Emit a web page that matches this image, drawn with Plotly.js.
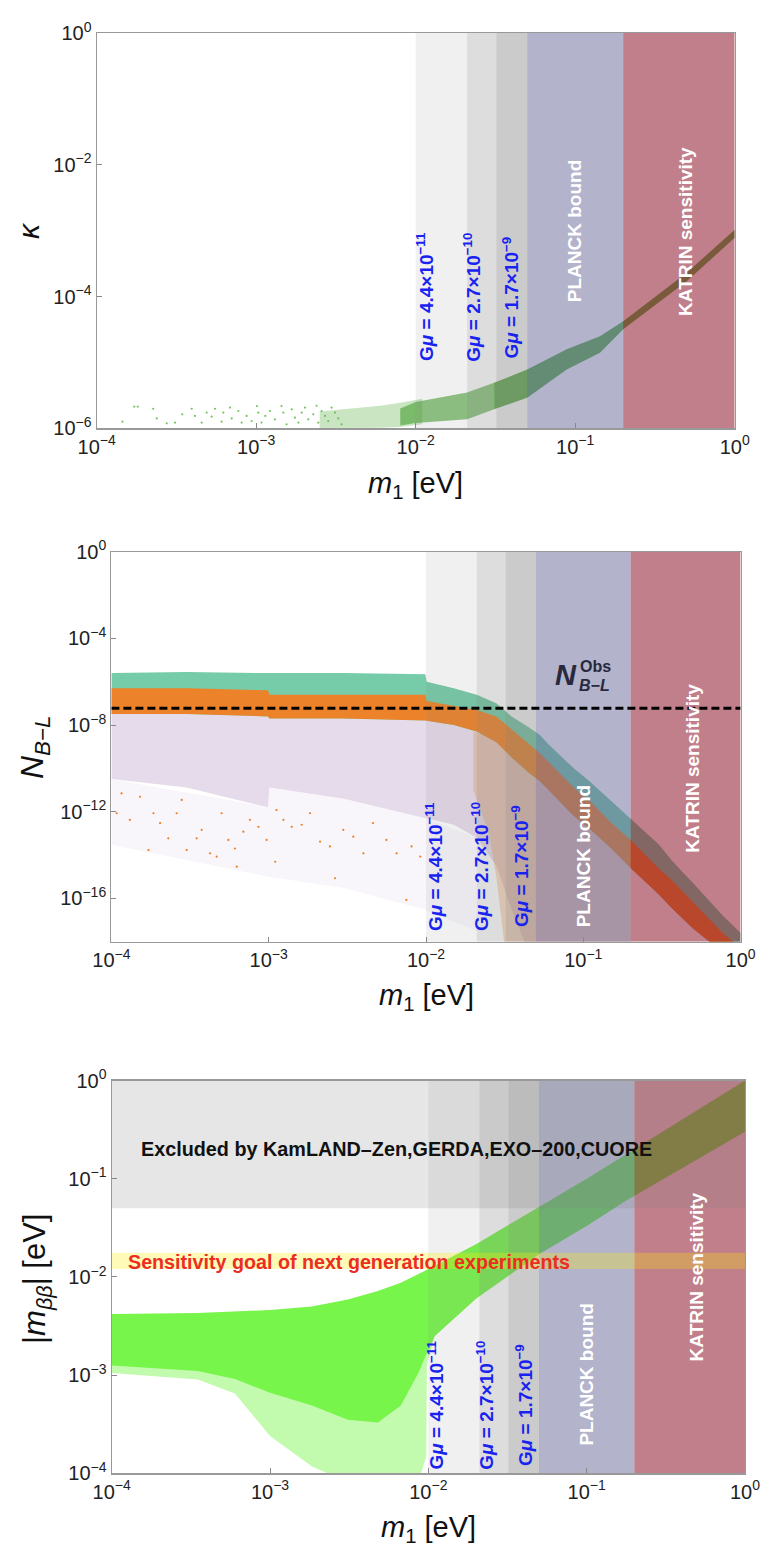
<!DOCTYPE html>
<html><head><meta charset="utf-8">
<script src="https://cdn.plot.ly/plotly-3.0.1.min.js"></script>
<style>html,body{margin:0;padding:0;background:#fff}#chart{width:773px;height:1562px}</style>
</head><body><div id="chart"></div>
<script>
// ---------- shared axis data ----------
const X_TICKS = [1e-4, 1e-3, 1e-2, 1e-1, 1];
const X_TICKTEXT = ['10<sup>−4</sup>','10<sup>−3</sup>','10<sup>−2</sup>','10<sup>−1</sup>','10<sup>0</sup>'];
const K_TICKS = [1e-6, 1e-4, 1e-2, 1];
const K_TICKTEXT = ['10<sup>−6</sup>','10<sup>−4</sup>','10<sup>−2</sup>','10<sup>0</sup>'];
const N_TICKS = [1e-16, 1e-12, 1e-8, 1e-4, 1];
const N_TICKTEXT = ['10<sup>−16</sup>','10<sup>−12</sup>','10<sup>−8</sup>','10<sup>−4</sup>','10<sup>0</sup>'];
const M_TICKS = [1e-4, 1e-3, 1e-2, 1e-1, 1];
const M_TICKTEXT = ['10<sup>−4</sup>','10<sup>−3</sup>','10<sup>−2</sup>','10<sup>−1</sup>','10<sup>0</sup>'];

// vertical bands (m1 edges) : three Gmu bands, PLANCK, KATRIN
const BAND_EDGES = [0.01, 0.021, 0.032, 0.05, 0.2, 1];
const BAND_LABELS = ['G<i>μ</i> = 4.4×10<sup>−11</sup>', 'G<i>μ</i> = 2.7×10<sup>−10</sup>', 'G<i>μ</i> = 1.7×10<sup>−9</sup>', 'PLANCK bound', 'KATRIN sensitivity'];

// ---------- panel 1 : kappa ----------
const K_SPARSE_M1 = [1.45e-4,1.72e-4,1.81e-4,2.26e-4,2.38e-4,2.75e-4,3.1e-4,3.44e-4,3.94e-4,4.13e-4,4.55e-4,4.89e-4,5.26e-4,5.52e-4,6.07e-4,6.22e-4,6.85e-4,7.02e-4,7.73e-4,8.11e-4,8.71e-4,9.37e-4,1.01e-3,1.03e-3,1.08e-3,1.14e-3,1.22e-3,1.31e-3,1.44e-3,1.48e-3,1.55e-3,1.67e-3,1.75e-3,1.84e-3,1.93e-3,2.02e-3,2.12e-3,2.28e-3,2.39e-3,2.45e-3,2.57e-3,2.7e-3,2.83e-3,2.97e-3,3.12e-3,3.27e-3,3.43e-3];
const K_SPARSE_K = [1.26e-6,2.14e-6,2.14e-6,1.98e-6,1.41e-6,1.19e-6,1.22e-6,1.63e-6,1.98e-6,1.54e-6,1.22e-6,1.73e-6,1.5e-6,1.98e-6,1.26e-6,1.73e-6,2.06e-6,1.41e-6,1.83e-6,1.22e-6,1.54e-6,1.29e-6,2.18e-6,1.73e-6,1.22e-6,1.54e-6,1.83e-6,1.37e-6,2.18e-6,1.73e-6,1.15e-6,1.94e-6,1.45e-6,1.22e-6,1.73e-6,2.06e-6,1.37e-6,1.63e-6,2.2e-6,1.22e-6,1.83e-6,1.54e-6,1.29e-6,2.06e-6,1.73e-6,1.41e-6,1.15e-6];
const K_MID_X = [0.0025, 0.004, 0.006, 0.008, 0.011];
const K_MID_TOP = [1.8e-6, 2.0e-6, 2.2e-6, 2.45e-6, 2.8e-6];
const K_MID_BOT = [1.01e-6, 1.01e-6, 1.02e-6, 1.05e-6, 1.15e-6];
const K_BAND1_X = [0.008, 0.01, 0.021, 0.031];
const K_BAND1_TOP = [2.0e-6, 2.5e-6, 3.5e-6, 4.9e-6];
const K_BAND1_BOT = [1.1e-6, 1.2e-6, 1.37e-6, 1.95e-6];
const K_BAND2_X = [0.031, 0.05, 0.0885, 0.143, 0.2, 0.5, 1];
const K_BAND2_TOP = [4.9e-6, 7.8e-6, 1.58e-5, 2.5e-5, 4.2e-5, 2.3e-4, 1.03e-3];
const K_BAND2_BOT = [1.95e-6, 2.9e-6, 7.8e-6, 1.4e-5, 3.2e-5, 1.7e-4, 7.8e-4];

// ---------- panel 2 : N_B-L ----------
const N_OBS = 6e-8;
const N_X = [1e-4, 3e-4, 9.9e-4, 1.01e-3, 3e-3, 0.0099, 0.0101, 0.015, 0.021, 0.028, 0.035, 0.045, 0.053, 0.06, 0.087, 0.11, 0.15, 0.2, 0.3, 0.37, 0.5, 0.77, 1];
const TEAL_TOP = [2.5e-6,2.8e-6,2.5e-6,2.5e-6,2.5e-6,2.2e-6,1e-6,5e-7,2.5e-7,1e-7,2.5e-8,8e-9,3.5e-9,1.3e-9,1e-10,2.5e-11,3.2e-12,5e-13,3.2e-14,5e-15,5e-16,1.6e-17,2.5e-18];
const ORANGE_TOP = [5e-7,5e-7,4e-7,2.5e-7,2.5e-7,2.5e-7,1.3e-7,8e-8,5e-8,2.5e-8,6.3e-9,1.3e-9,5e-10,2e-10,1.3e-11,3.2e-12,3.2e-13,5e-14,2.5e-15,6.3e-16,6.3e-17,2.5e-18,5e-19];
const ORANGE_BOT = [3.2e-8,3.2e-8,2.5e-8,2e-8,2e-8,1.6e-8,1.6e-8,1e-8,5e-9,1.6e-9,3.2e-10,6.3e-11,2.5e-11,1e-11,6.3e-13,1.6e-13,2e-14,2.5e-15,1.6e-16,3.2e-17,4e-18,3.2e-19,1e-19];
const LAV_X = [1e-4, 3e-4, 9.9e-4, 1.01e-3, 3e-3, 0.0099, 0.0101, 0.015, 0.021, 0.028, 0.035, 0.045, 0.053, 0.06, 0.087, 0.11, 0.15, 0.2];
const LAV_BOT = [3.2e-11,1.3e-11,1.6e-12,1.3e-11,4e-12,5e-13,5e-13,2.5e-13,6.3e-14,3.2e-15,3.2e-17,3.2e-19,3.2e-19,3.2e-19,3.2e-19,3.2e-19,3.2e-19,3.2e-19];
const LAV_SPARSE_X = [1e-4, 9.9e-4, 1.01e-3, 3e-3, 0.0099, 0.021];
const LAV_SPARSE_TOP = [3.2e-11, 1.6e-12, 1.3e-11, 4e-12, 5e-13, 6.3e-14];
const LAV_SPARSE_BOT = [3e-14, 1e-15, 1e-15, 3e-16, 3e-17, 3e-18];
const ORSPK_X = [0.02, 0.025, 0.028, 0.032, 0.05, 0.1, 0.2];
const ORSPK_TOP = [5e-9, 3e-9, 1.6e-9, 8e-10, 3.2e-11, 3.2e-13, 2.5e-15];
const ORSPK_BOT = [1e-11, 1e-13, 1e-15, 3e-19, 3e-19, 3e-19, 3e-19];
const OR_DOT_M1 = [1.08e-4,1.16e-4,1.31e-4,1.52e-4,1.72e-4,1.85e-4,2.04e-4,2.3e-4,2.6e-4,2.8e-4,3.01e-4,3.48e-4,3.75e-4,4.24e-4,4.67e-4,5.02e-4,5.54e-4,6.1e-4,6.26e-4,6.9e-4,7.6e-4,8.6e-4,9.7e-4,1.1e-3,1.12e-3,1.24e-3,1.4e-3,1.62e-3,1.83e-3,2.12e-3,2.45e-3,2.64e-3,2.98e-3,3.45e-3,4e-3,4.6e-3,5.6e-3,6.5e-3,7.5e-3,8.1e-3,9.2e-3];
const OR_DOT_N = [8.5e-13,7e-12,4.2e-13,4.9e-12,1.7e-14,8.5e-13,3e-13,5.9e-14,8.5e-13,3.5e-12,1.7e-14,5.9e-14,1.45e-13,1.2e-14,8.5e-15,8.5e-13,5e-14,2e-14,2.9e-15,1.2e-13,4.2e-13,2e-13,5e-14,4.9e-15,1.2e-12,4.2e-13,2e-13,2.5e-13,8.5e-13,4.2e-14,2.5e-14,8.5e-16,1.45e-13,7e-14,1.2e-14,3e-13,5e-14,1.2e-14,8.5e-17,2.5e-14,8.5e-15];

// ---------- panel 3 : |m_bb| ----------
const EXCL_RANGE = [0.05, 1];
const GOAL_RANGE = [0.012, 0.0176];
const MBB_X_UP = [1e-4, 3.5e-4, 1e-3, 1.84e-3, 3.1e-3, 4.8e-3, 6.7e-3, 0.01, 0.02, 0.05, 0.1, 0.2, 1];
const MBB_UP = [4.2e-3, 4.3e-3, 4.6e-3, 5.0e-3, 5.9e-3, 7.2e-3, 8.7e-3, 0.012, 0.0215, 0.051, 0.1, 0.2, 1];
const MBB_X_LO = [1, 0.2, 0.175, 0.1, 0.05, 0.02, 0.014, 0.011, 0.0095, 0.0087, 0.0067, 0.0048, 0.0031, 0.00184, 0.001, 0.0006, 0.00035, 1e-4];
const MBB_LO = [0.3, 0.066, 0.059, 0.033, 0.017, 6e-3, 3.6e-3, 2.5e-3, 1.5e-3, 1.07e-3, 4.9e-4, 3.3e-4, 3.5e-4, 4.9e-4, 6.6e-4, 9.1e-4, 1.1e-3, 1.25e-3];
const MBB_SPARSE_X = [1e-4, 1e-4, 3.5e-4, 6e-4, 1e-3, 1.84e-3, 2.3e-3, 9e-3, 9.7e-3, 0.0098, 0.011, 0.005, 1e-4];
const MBB_SPARSE_Y = [2e-3, 1.05e-3, 9e-4, 6.5e-4, 2.4e-4, 1.17e-4, 1e-4, 1e-4, 1.5e-4, 1.3e-3, 2.6e-3, 2e-3, 2e-3];

// ---------- helpers ----------
const W = 773, H = 1562;
const px = x => x / W, py = y => 1 - y / H;
const FONT = 'Liberation Sans, Arial, sans-serif';
const BAND_FILLS = ['rgba(128,128,128,0.118)','rgba(128,128,128,0.27)','rgba(128,128,128,0.41)','rgba(103,103,151,0.5)','rgba(142,22,44,0.55)'];

function poly(xs, top, bot, xa, ya, fill) {
  return {x: xs.concat(xs.slice().reverse()), y: top.concat(bot.slice().reverse()),
    xaxis: xa, yaxis: ya, mode: 'lines', fill: 'toself', fillcolor: fill,
    line: {width: 0}, hoverinfo: 'skip', showlegend: false};
}
function closed(xs, ys, xa, ya, fill) {
  return {x: xs, y: ys, xaxis: xa, yaxis: ya, mode: 'lines', fill: 'toself', fillcolor: fill,
    line: {width: 0}, hoverinfo: 'skip', showlegend: false};
}
function rect(x0, x1, y0, y1, xa, ya, fill) {
  return closed([x0, x1, x1, x0, x0], [y0, y0, y1, y1, y0], xa, ya, fill);
}
function bands(xa, ya, ymin, ymax) {
  const t = [];
  for (let i = 0; i < BAND_EDGES.length - 1; i++) t.push(rect(BAND_EDGES[i], BAND_EDGES[i+1], ymin, ymax, xa, ya, BAND_FILLS[i]));
  return t;
}

const traces = [];
// panel 1
traces.push({x: K_SPARSE_M1, y: K_SPARSE_K, xaxis: 'x', yaxis: 'y', mode: 'markers',
  marker: {size: 2.2, color: 'rgb(120,195,100)'}, hoverinfo: 'skip', showlegend: false});
traces.push(poly(K_MID_X, K_MID_TOP, K_MID_BOT, 'x', 'y', 'rgba(100,180,80,0.35)'));
traces.push(poly(K_BAND1_X, K_BAND1_TOP, K_BAND1_BOT, 'x', 'y', 'rgba(80,165,60,0.65)'));
traces.push(poly(K_BAND2_X, K_BAND2_TOP, K_BAND2_BOT, 'x', 'y', 'rgba(80,165,60,0.9)'));
traces.push(...bands('x', 'y', 1e-6, 1));
// panel 2
traces.push(poly(LAV_SPARSE_X, LAV_SPARSE_TOP, LAV_SPARSE_BOT, 'x2', 'y2', 'rgba(225,212,235,0.2)'));
traces.push(poly(LAV_X, ORANGE_BOT.slice(0, LAV_X.length), LAV_BOT, 'x2', 'y2', 'rgb(230,219,234)'));
traces.push(poly(ORSPK_X, ORSPK_TOP, ORSPK_BOT, 'x2', 'y2', 'rgba(235,130,40,0.28)'));
traces.push({x: OR_DOT_M1, y: OR_DOT_N, xaxis: 'x2', yaxis: 'y2', mode: 'markers',
  marker: {size: 2.2, color: 'rgb(235,125,35)'}, hoverinfo: 'skip', showlegend: false});
traces.push(poly(N_X, TEAL_TOP, ORANGE_BOT, 'x2', 'y2', 'rgb(118,203,168)'));
traces.push(poly(N_X, ORANGE_TOP, ORANGE_BOT, 'x2', 'y2', 'rgb(236,131,42)'));
traces.push(...bands('x2', 'y2', 1e-18, 1));
traces.push({x: [1e-4, 1], y: [N_OBS, N_OBS], xaxis: 'x2', yaxis: 'y2', mode: 'lines',
  line: {color: '#000', width: 3, dash: '8px,4px'}, hoverinfo: 'skip', showlegend: false});
// panel 3
traces.push(closed(MBB_SPARSE_X, MBB_SPARSE_Y, 'x3', 'y3', 'rgba(119,245,75,0.45)'));
traces.push(closed(MBB_X_UP.concat(MBB_X_LO), MBB_UP.concat(MBB_LO), 'x3', 'y3', 'rgb(119,245,75)'));
traces.push(...bands('x3', 'y3', 1e-4, 1));
traces.push(rect(1e-4, 1, EXCL_RANGE[0], EXCL_RANGE[1], 'x3', 'y3', 'rgba(128,128,128,0.2)'));
traces.push(rect(1e-4, 1, GOAL_RANGE[0], GOAL_RANGE[1], 'x3', 'y3', 'rgba(255,238,0,0.28)'));

function xax(dom, anchor) {
  return {domain: dom, anchor: anchor, type: 'log', range: [-4, 0], tickvals: X_TICKS, ticktext: X_TICKTEXT,
    ticks: 'inside', ticklen: 5, tickcolor: '#888', showline: true, linecolor: '#999', linewidth: 1.2,
    mirror: true, showgrid: false, zeroline: false, tickfont: {family: FONT, size: 20, color: '#222'}};
}
function yax(dom, anchor, range, tv, tt) {
  return {domain: dom, anchor: anchor, type: 'log', range: range, tickvals: tv, ticktext: tt,
    ticks: 'inside', ticklen: 5, tickcolor: '#888', showline: true, linecolor: '#999', linewidth: 1.2,
    mirror: true, showgrid: false, zeroline: false, tickfont: {family: FONT, size: 20, color: '#222'}};
}

const ann = [];
function txt(x, y, text, size, color, angle) {
  ann.push({xref: 'paper', yref: 'paper', x: px(x), y: py(y), text: text, showarrow: false,
    xanchor: 'center', yanchor: 'middle', textangle: angle || 0, font: {family: FONT, size: size, color: color}});
}
const BLUE = 'rgb(25,35,240)';
// titles
txt(415.7, 485, '<i>m</i><sub>1</sub> [eV]', 29, '#111');
txt(28, 230, '<i>κ</i>', 30, '#111', -90);
txt(426, 997, '<i>m</i><sub>1</sub> [eV]', 29, '#111');
txt(34, 747, '<i>N</i><sub><i>B−L</i></sub>', 32, '#111', -90);
txt(428, 1529, '<i>m</i><sub>1</sub> [eV]', 29, '#111');
txt(37, 1279, '|<i>m</i><sub><i>ββ</i></sub>| [eV]', 31, '#111', -90);
// band labels
const P1_POS = [[425, 297], [471.7, 297], [510, 297.5], [574.5, 231.7], [685.4, 231.5]];
const P2_POS = [[433.3, 866.7], [480, 866], [520, 866], [583.3, 856], [691.7, 768]];
const P3_POS = [[435.5, 1405], [484.7, 1405], [524, 1405], [585.6, 1375], [696.4, 1277]];
[P1_POS, P2_POS, P3_POS].forEach(P => {
  P.forEach((p, i) => txt(p[0], p[1], '<b>' + BAND_LABELS[i] + '</b>', 19, i < 3 ? BLUE : '#ffffff', -90));
});
// N_obs label
txt(566, 675, '<b><i>N</i></b>', 29, 'rgb(40,40,62)');
txt(595, 666.5, '<b>Obs</b>', 16, 'rgb(40,40,62)');
txt(594, 686, '<b><i>B−L</i></b>', 16, 'rgb(40,40,62)');
// panel 3 texts
txt(396, 1149, '<b>Excluded by KamLAND–Zen,GERDA,EXO–200,CUORE</b>', 19.8, '#111');
txt(348.5, 1262, '<b>Sensitivity goal of next generation experiments</b>', 19.7, 'rgb(235,45,35)');

const layout = {
  width: W, height: H, margin: {l: 0, r: 0, t: 0, b: 0}, paper_bgcolor: '#fff', plot_bgcolor: '#fff',
  showlegend: false, font: {family: FONT},
  xaxis: xax([px(96.7), px(734.7)], 'y'),
  yaxis: yax([py(428.3), py(33)], 'x', [-6, 0], K_TICKS, K_TICKTEXT),
  xaxis2: xax([px(111.4), px(740.6)], 'y2'),
  yaxis2: yax([py(941.7), py(551.7)], 'x2', [-18, 0], N_TICKS, N_TICKTEXT),
  xaxis3: xax([px(111.7), px(745)], 'y3'),
  yaxis3: yax([py(1473.3), py(1080.5)], 'x3', [-4, 0], M_TICKS, M_TICKTEXT),
  annotations: ann
};
Plotly.newPlot('chart', traces, layout, {displayModeBar: false, staticPlot: true});
</script></body></html>
